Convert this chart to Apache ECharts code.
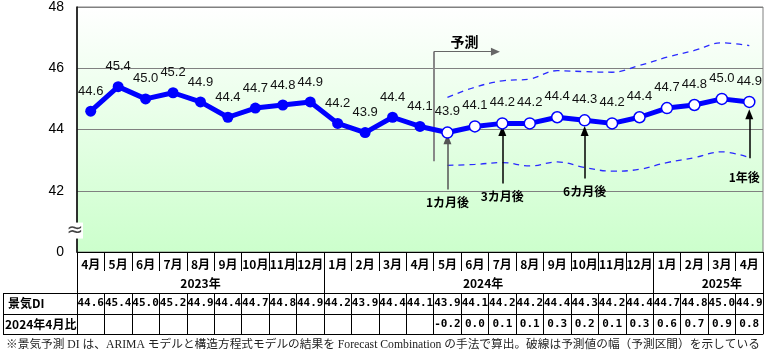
<!DOCTYPE html>
<html><head><meta charset="utf-8">
<script src="https://cdn.jsdelivr.net/npm/echarts@6/dist/echarts.min.js"></script>
<style>html,body{margin:0;padding:0;background:#fff}#c{width:773px;height:359px}</style>
</head><body><div id="c"></div>
<script>
// ---- data ----
const months = ['4月','5月','6月','7月','8月','9月','10月','11月','12月','1月','2月','3月','4月','5月','6月','7月','8月','9月','10月','11月','12月','1月','2月','3月','4月'];
const years = ['2023年','2024年','2025年'];
const diValues = [44.6,45.4,45.0,45.2,44.9,44.4,44.7,44.8,44.9,44.2,43.9,44.4,44.1,43.9,44.1,44.2,44.2,44.4,44.3,44.2,44.4,44.7,44.8,45.0,44.9];
const forecastStartIndex = 13;
const upperBound = [null,null,null,null,null,null,null,null,null,null,null,null,null,45.05,45.38,45.59,45.65,45.92,45.89,45.87,46.09,46.36,46.58,46.83,46.74];
const lowerBound = [null,null,null,null,null,null,null,null,null,null,null,null,null,42.83,42.86,42.92,42.81,42.94,42.76,42.64,42.70,42.92,43.08,43.27,43.08];
const vsApr2024 = ['','','','','','','','','','','','','','-0.2','0.0','0.1','0.1','0.3','0.2','0.1','0.3','0.6','0.7','0.9','0.8'];
const yTicks = [40,42,44,46,48];
const yTickLabels = ['0','42','44','46','48'];
const rowLabels = ['景気DI','2024年4月比'];
const footnote = '※景気予測 DI は、ARIMA モデルと構造方程式モデルの結果を Forecast Combination の手法で算出。破線は予測値の幅（予測区間）を示している';

// ---- chart ----
const chart = echarts.init(document.getElementById('c'));
const blue = '#0000ff';
const jp = "'Noto Sans CJK JP', sans-serif";
const mono = "'DejaVu Sans Mono', 'Liberation Mono', monospace";
const N = months.length;

const tableAxis = (data, offset, tickLen, showLabel) => ({
  type:'category', data:data, position:'bottom', offset:offset, boundaryGap:true,
  axisLine:{show:true, onZero:false, lineStyle:{color:'#000', width:1}},
  axisTick:{show:tickLen>0, length:tickLen, interval:0, lineStyle:{color:'#000', width:1}},
  axisLabel:{show:showLabel, interval:0, margin:5, fontSize:11, fontWeight:'bold', color:'#000', fontFamily:mono},
  splitLine:{show:false}
});

const option = {
  animation:false,
  grid:{left:77, right:10, top:7, bottom:107, show:true,
    backgroundColor:new echarts.graphic.LinearGradient(0,0,0,1,[{offset:0,color:'#ffffff'},{offset:1,color:'#ccffcc'}]),
    borderColor:'#808080', borderWidth:1},
  xAxis:[
    {type:'category', data:months, position:'bottom', boundaryGap:true,
     axisLine:{show:true, onZero:false, lineStyle:{color:'#000', width:1}},
     axisTick:{show:true, length:19, interval:0, lineStyle:{color:'#000'}},
     axisLabel:{interval:0, margin:6, fontSize:12, fontWeight:'bold', color:'#000', fontFamily:jp}},
    {type:'value', min:-0.5, max:N-0.5, show:false},
    tableAxis(diValues.map(v=>v.toFixed(1)), 41, 21, true),
    tableAxis(vsApr2024, 62, 20, true),
    tableAxis(months.map(()=>''), 82, 0, false)
  ],
  yAxis:{type:'value', min:yTicks[0], max:yTicks[yTicks.length-1], interval:2,
    axisLine:{show:true, onZero:false, lineStyle:{color:'#000', width:1.5}}, axisTick:{show:false},
    splitLine:{show:true, lineStyle:{color:'#808080', width:1}},
    axisLabel:{formatter:v=>yTickLabels[yTicks.indexOf(v)], color:'#000', fontSize:14, margin:13, fontFamily:"'Liberation Sans', Arial"}},
  series:[
    {type:'line', name:'upper', data:upperBound, smooth:0.4, symbol:'none', connectNulls:false,
     lineStyle:{color:'#2a2aff', width:1.3, type:[6,5]}, z:3},
    {type:'line', name:'lower', data:lowerBound, smooth:0.4, symbol:'none',
     lineStyle:{color:'#2a2aff', width:1.3, type:[6,5]}, z:3},
    {type:'line', name:'景気DI',
     data:diValues.map((v,i)=> i>=forecastStartIndex ? {value:v, itemStyle:{color:'#ffffff', borderColor:blue, borderWidth:1.5}} : {value:v}),
     symbol:'circle', symbolSize:11, lineStyle:{color:blue, width:5}, itemStyle:{color:blue},
     label:{show:true, position:'top', distance:8, fontSize:13, color:'#111', fontFamily:"'Liberation Sans', Arial",
       formatter:p=>Number(p.value).toFixed(1)}, z:5},
    {type:'line', name:'annot', xAxisIndex:1, yAxisIndex:0, data:[], silent:true,
     markLine:{silent:true, animation:false, symbol:['none','triangle'], symbolSize:[0,8],
       data:[
         [{coord:[12.5,42.96], symbol:'none', lineStyle:{color:'#888', width:2, type:'solid'}, label:{show:false}},
          {coord:[12.5,46.54], symbol:'none'}],
         [{coord:[12.5,46.54], symbol:'none', lineStyle:{color:'#666', width:1.2, type:'solid'},
           label:{show:true, position:'insideMiddleTop', formatter:'予測', fontSize:14, fontWeight:'bold', color:'#000', fontFamily:jp, distance:3}},
          {coord:[14.75,46.54], symbol:'triangle', symbolSize:[8,9]}],
         [{coord:[13,42.04], symbol:'none', lineStyle:{color:'#555', width:1.5, type:'solid'},
           label:{show:true, position:'start', formatter:'1カ月後', fontSize:12, fontWeight:'bold', color:'#000', fontFamily:jp, distance:7}},
          {coord:[13,43.68], symbol:'triangle', symbolSize:[8,10]}],
         [{coord:[15,42.24], symbol:'none', lineStyle:{color:'#000', width:1.5, type:'solid'},
           label:{show:true, position:'start', formatter:'3カ月後', fontSize:12, fontWeight:'bold', color:'#000', fontFamily:jp, distance:7}},
          {coord:[15,43.95], symbol:'triangle', symbolSize:[8,10]}],
         [{coord:[18,42.40], symbol:'none', lineStyle:{color:'#000', width:1.5, type:'solid'},
           label:{show:true, position:'start', formatter:'6カ月後', fontSize:12, fontWeight:'bold', color:'#000', fontFamily:jp, distance:7}},
          {coord:[18,43.95], symbol:'triangle', symbolSize:[8,10]}],
         [{coord:[24,43.06], symbol:'none', lineStyle:{color:'#000', width:1.5, type:'solid'},
           label:{show:true, position:'start', formatter:'1年後', fontSize:12, fontWeight:'bold', color:'#000', fontFamily:jp, distance:13, offset:[-5,0]}},
          {coord:[24,44.5], symbol:'triangle', symbolSize:[8,10]}]
       ]}}
  ]
};
chart.setOption(option);

// ---- table frame, year row, row labels, axis-break, footnote ----
const X = i => chart.convertToPixel({xAxisIndex:1}, i);
const Y = v => chart.convertToPixel({yAxisIndex:0}, v);
const y0 = Math.round(Y(yTicks[0]));
const xl = Math.round(X(-0.5)), xr = Math.round(X(N-0.5));
const ln = (x1,y1,x2,y2,c,w) => ({type:'line', silent:true, z:10, shape:{x1:x1,y1:y1,x2:x2,y2:y2}, style:{stroke:c||'#000', lineWidth:w||1}});
const g = [];
g.push(ln(xl+0.5, y0, xl+0.5, y0+82));
g.push(ln(xr+0.5, y0, xr+0.5, y0+82));
[8.5, 20.5].forEach(b=>{ const x=Math.round(X(b))+0.5; g.push(ln(x, y0, x, y0+41)); });
[41,62,82].forEach(o=> g.push(ln(3, y0+o+0.5, xl, y0+o+0.5)));
g.push(ln(3.5, y0+41, 3.5, y0+82));
const yearPos = [4, 14.3, 23];
years.forEach((t,k)=> g.push({type:'text', silent:true, z:10, x:X(yearPos[k]), y:y0+31,
  style:{text:t, fill:'#000', font:"bold 12px "+jp, align:'center', verticalAlign:'middle'}}));
g.push({type:'text', silent:true, z:10, x:8, y:y0+51.5, style:{text:rowLabels[0], fill:'#000', font:"bold 12px "+jp, verticalAlign:'middle'}});
g.push({type:'text', silent:true, z:10, x:5, y:y0+72, style:{text:rowLabels[1], fill:'#000', font:"bold 12px "+jp, verticalAlign:'middle'}});
g.push({type:'rect', silent:true, z:20, shape:{x:67, y:Y(40.7)-8, width:16, height:16}, style:{fill:'#fff'}});
g.push({type:'text', silent:true, z:21, x:75, y:Y(40.7), style:{text:'≈', fill:'#444', font:"20px 'DejaVu Sans'", align:'center', verticalAlign:'middle'}});
g.push({type:'text', silent:true, z:10, x:6, y:345, style:{text:footnote, fill:'#222', font:"11.7px 'Liberation Serif', 'Noto Sans CJK JP'", verticalAlign:'middle'}});
chart.setOption({graphic:g});
</script></body></html>
